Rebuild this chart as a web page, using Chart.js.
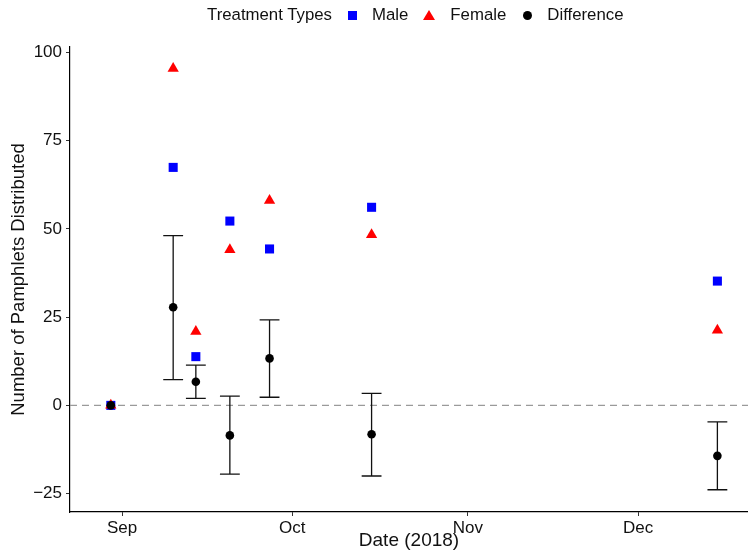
<!DOCTYPE html>
<html>
<head>
<meta charset="utf-8">
<script src="https://cdn.jsdelivr.net/npm/chart.js@4.4.0/dist/chart.umd.min.js"></script>
<style>
  body { margin: 0; background: #fff; }
  #wrap { position: relative; width: 748px; height: 560px; }
  #legend {
    position: absolute; top: 0; left: 207px; height: 30px;
    display: flex; align-items: center;
    font-family: "Liberation Sans", Arial, sans-serif; font-size: 16.8px; color: #111;
    white-space: nowrap;
  }
  .sq { width: 9px; height: 9px; background: #0000ff; margin: 0 15px 0 16px; }
  .tri { width: 0; height: 0; border-left: 6px solid transparent; border-right: 6px solid transparent;
         border-bottom: 10px solid #ff0000; margin: 0 15px 0 15px; }
  .dot { width: 9px; height: 9px; border-radius: 50%; background: #000; margin: 0 15px 0 17px; }
</style>
</head>
<body>
<div id="wrap">
  <canvas id="chart" width="748" height="560"></canvas>
  <div id="legend">
    <span>Treatment Types</span>
    <span class="sq"></span><span>Male</span>
    <span class="tri"></span><span>Female</span>
    <span class="dot"></span><span>Difference</span>
  </div>
</div>
<script>
// days since 1 Sep 2018
const days = [-2, 9, 13, 19, 26, 44, 105];
const male = [0, 67.4, 13.8, 52.2, 44.3, 56.1, 35.2];
const female = [0, 95.4, 20.9, 44.1, 58.0, 48.3, 21.3];
const diff = [0, 27.8, 6.7, -8.5, 13.3, -8.2, -14.3];
const ciLow = [null, 7.3, 2.0, -19.5, 2.3, -20.0, -23.9];
const ciHigh = [null, 48.1, 11.4, 2.6, 24.2, 3.4, -4.7];

const monthTicks = [0, 30, 61, 91];
const monthLabels = ['Sep', 'Oct', 'Nov', 'Dec'];
const yTicks = [-25, 0, 25, 50, 75, 100];

const capHalf = 1.75; // days

Chart.defaults.font.family = '"Liberation Sans", Arial, sans-serif';
Chart.defaults.color = '#111';

const toPoints = vals => days.map((d, i) => ({ x: d, y: vals[i] }));

// dashed zero line + error bars, under the points
const errorBars = {
    id: 'errorBars',
    beforeDatasetsDraw(chart) {
        const { ctx, chartArea, scales: { x, y } } = chart;
        ctx.save();
        const y0 = y.getPixelForValue(0);
        ctx.strokeStyle = '#9a9a9a';
        ctx.lineWidth = 1.1;
        ctx.setLineDash([7, 5]);
        ctx.beginPath();
        ctx.moveTo(chartArea.left, y0);
        ctx.lineTo(chartArea.right, y0);
        ctx.stroke();
        ctx.setLineDash([]);

        ctx.strokeStyle = '#111';
        ctx.lineWidth = 1.3;
        days.forEach((d, i) => {
            if (ciLow[i] == null) return;
            const px = x.getPixelForValue(d);
            const l = x.getPixelForValue(d - capHalf);
            const r = x.getPixelForValue(d + capHalf);
            const top = y.getPixelForValue(ciHigh[i]);
            const bot = y.getPixelForValue(ciLow[i]);
            ctx.beginPath();
            ctx.moveTo(px, top); ctx.lineTo(px, bot);
            ctx.moveTo(l, top); ctx.lineTo(r, top);
            ctx.moveTo(l, bot); ctx.lineTo(r, bot);
            ctx.stroke();
        });
        ctx.restore();
    }
};

new Chart(document.getElementById('chart'), {
    type: 'scatter',
    data: {
        datasets: [
            { label: 'Male', data: toPoints(male), pointStyle: 'rect', pointRadius: 6.4,
              backgroundColor: '#0000ff', borderWidth: 0, order: 3 },
            { label: 'Female', data: toPoints(female), pointStyle: 'triangle', pointRadius: 6.5,
              backgroundColor: '#ff0000', borderWidth: 0, order: 2 },
            { label: 'Difference', data: toPoints(diff), pointStyle: 'circle', pointRadius: 4.3,
              backgroundColor: '#000', borderWidth: 0, order: 1 }
        ]
    },
    options: {
        responsive: false,
        animation: false,
        events: [],
        layout: { autoPadding: false, padding: { top: 47, left: 0, right: 0, bottom: 0 } },
        plugins: { legend: { display: false }, tooltip: { enabled: false } },
        scales: {
            x: {
                type: 'linear', min: -9.2, max: 110.4,
                afterBuildTicks: s => { s.ticks = monthTicks.map(v => ({ value: v })); },
                afterFit: s => { s.height = 48; s.paddingLeft = 0; s.paddingRight = 0; },
                ticks: { autoSkip: false, maxRotation: 0, padding: 2, font: { size: 17 },
                         callback: (v, i) => monthLabels[i] },
                grid: { display: true, drawOnChartArea: false, tickLength: 4, color: '#333' },
                border: { display: true, color: '#000', width: 1.2 },
                title: { display: true, text: 'Date (2018)', font: { size: 19 },
                         padding: { top: 0, bottom: 8 } }
            },
            y: {
                min: -30.2, max: 101.5,
                afterBuildTicks: s => { s.ticks = yTicks.map(v => ({ value: v })); },
                afterFit: s => { s.width = 70; s.paddingTop = 0; s.paddingBottom = 0; },
                ticks: { padding: 4, font: { size: 17 },
                         callback: v => (v < 0 ? '\u2212' + Math.abs(v) : String(v)) },
                grid: { display: true, drawOnChartArea: false, tickLength: 4, color: '#333' },
                border: { display: true, color: '#000', width: 1.2 },
                title: { display: true, text: 'Number of Pamphlets Distributed', font: { size: 18.5 },
                         padding: { top: 8, bottom: 0 } }
            }
        }
    },
    plugins: [errorBars]
});
</script>
</body>
</html>
